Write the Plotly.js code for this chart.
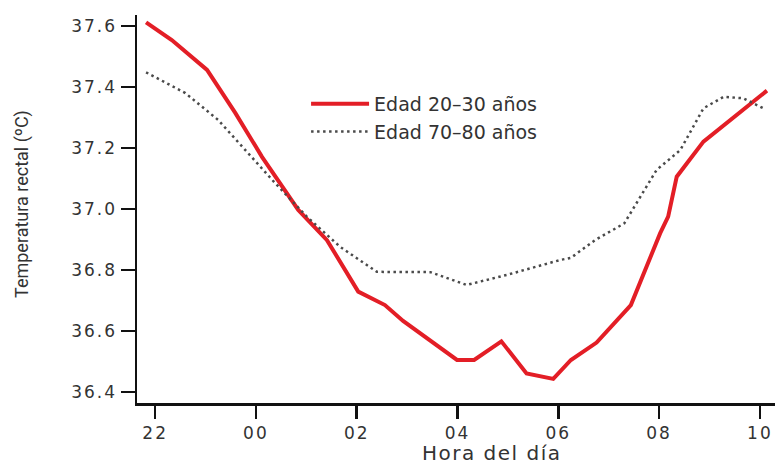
<!DOCTYPE html>
<html>
<head>
<meta charset="utf-8">
<script src="https://cdn.plot.ly/plotly-3.0.1.min.js"></script>
<style>
  html, body { margin: 0; padding: 0; background: #fff; }
  #chart { width: 775px; height: 464px; }
  #chart .xtick text, #chart .ytick text { letter-spacing: 2px; }
</style>
</head>
<body>
<div id="chart"></div>
<script>
// Hours of day (continuing past midnight: 24 = 00, 26 = 02, ...)
const youngHours = [21.82, 22.33, 23.03, 23.59, 24.12, 24.84, 25.41, 26.03, 26.56, 26.92, 27.99, 28.33, 28.87, 29.37, 29.90, 30.25, 30.76, 31.44, 32.02, 32.18, 32.35, 32.88, 34.14];
const youngTemp  = [37.612, 37.554, 37.456, 37.315, 37.171, 36.997, 36.898, 36.729, 36.685, 36.633, 36.505, 36.505, 36.566, 36.461, 36.443, 36.505, 36.562, 36.685, 36.920, 36.975, 37.106, 37.221, 37.388];

const oldHours = [21.82, 22.60, 23.25, 24.38, 25.01, 25.67, 26.40, 27.46, 28.18, 28.98, 30.04, 30.25, 30.73, 31.31, 31.95, 32.42, 32.88, 33.28, 33.67, 34.07];
const oldTemp  = [37.448, 37.380, 37.292, 37.085, 36.975, 36.876, 36.794, 36.793, 36.751, 36.784, 36.833, 36.840, 36.898, 36.953, 37.128, 37.193, 37.330, 37.368, 37.363, 37.330];

const seriesNames = ['Edad 20\u201330 a\u00f1os', 'Edad 70\u201380 a\u00f1os'];
const xTickVals = [22, 24, 26, 28, 30, 32, 34];
const xTickText = ['22', '00', '02', '04', '06', '08', '10'];
const yTickVals = [36.4, 36.6, 36.8, 37.0, 37.2, 37.4, 37.6];
const yTickText = ['36.4', '36.6', '36.8', '37.0', '37.2', '37.4', '37.6'];

const tickFont = { family: 'DejaVu Sans, Verdana, sans-serif', size: 17, color: '#333333' };

const traces = [
  {
    x: youngHours, y: youngTemp, name: seriesNames[0],
    type: 'scatter', mode: 'lines',
    line: { color: '#e31e26', width: 4 }
  },
  {
    x: oldHours, y: oldTemp, name: seriesNames[1],
    type: 'scatter', mode: 'lines',
    line: { color: '#4a4a4a', width: 2.5, dash: '2.5px,3.5px' }
  }
];

const layout = {
  width: 775, height: 464,
  margin: { l: 137, r: 0, t: 15, b: 61 },
  paper_bgcolor: '#ffffff', plot_bgcolor: '#ffffff',
  showlegend: true,
  legend: {
    x: 0.265, y: 0.82, xanchor: 'left', yanchor: 'top',
    bgcolor: 'rgba(0,0,0,0)', borderwidth: 0,
    font: { family: 'DejaVu Sans, Verdana, sans-serif', size: 19, color: '#333333' },
    itemwidth: 58, tracegroupgap: 0
  },
  xaxis: {
    range: [21.64, 34.3],
    tickmode: 'array', tickvals: xTickVals, ticktext: xTickText,
    ticks: 'outside', ticklen: 13, tickwidth: 2.5, tickcolor: '#111',
    showline: true, linecolor: '#111', linewidth: 2.5,
    showgrid: false, zeroline: false,
    tickfont: tickFont
  },
  yaxis: {
    range: [36.364, 37.636],
    tickmode: 'array', tickvals: yTickVals, ticktext: yTickText,
    ticks: 'outside', ticklen: 14, tickwidth: 2.5, tickcolor: '#111',
    showline: true, linecolor: '#111', linewidth: 2.5,
    showgrid: false, zeroline: false,
    tickfont: tickFont
  },
  annotations: [
    {
      text: 'Temperatura rectal (\u00baC)',
      xref: 'paper', yref: 'paper', x: 0, y: 0.513, xshift: -115,
      xanchor: 'center', yanchor: 'middle', textangle: -90, showarrow: false,
      font: { family: 'Liberation Sans Narrow, Roboto, sans-serif', size: 18, color: '#333333' }
    },
    {
      text: 'Hora del d\u00eda',
      xref: 'paper', yref: 'paper', x: 0.556, y: 0, yshift: -50,
      xanchor: 'center', yanchor: 'middle', showarrow: false,
      font: { family: 'DejaVu Sans, Verdana, sans-serif', size: 20, color: '#333333' }
    }
  ]
};

Plotly.newPlot('chart', traces, layout, { displayModeBar: false, staticPlot: true }).then(function () {
  // widen the x-axis title a little, like the reference's stretched lettering
  var ann = document.querySelectorAll('#chart .annotation-text');
  if (ann.length > 1) ann[1].style.letterSpacing = '1.5px';
});
</script>
</body>
</html>
